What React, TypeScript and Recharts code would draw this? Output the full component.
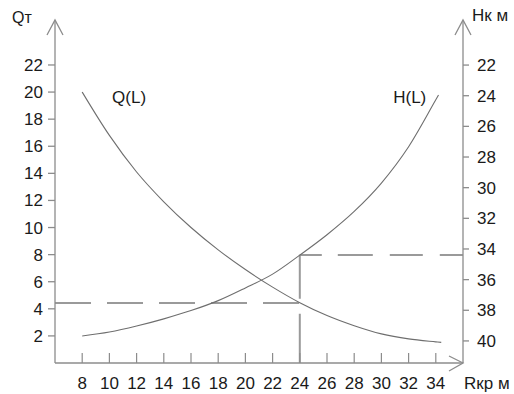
import { LineChart, Line, XAxis, YAxis, ReferenceDot } from "recharts"

// L, m
const lengthTicks = [8, 10, 12, 14, 16, 18, 20, 22, 24, 26, 28, 30, 32, 34]
const qTicks = [2, 4, 6, 8, 10, 12, 14, 16, 18, 20, 22]
const hTicks = [22, 24, 26, 28, 30, 32, 34, 36, 38, 40]

// Q(L) curve
const qLength = [8, 10, 12, 14, 16, 18, 20, 22, 24, 26, 28, 30, 32, 34, 34.4]
const qValues = [20.0, 16.8, 14.1, 11.9, 10.0, 8.35, 6.9, 5.6, 4.45, 3.5, 2.75, 2.15, 1.78, 1.56, 1.52]

// H(L) curve (right axis, reversed)
const hLength = [8, 10, 12, 14, 16, 18, 20, 22, 24, 26, 28, 30, 32, 34, 34.2]
const hValues = [39.68, 39.42, 39.03, 38.56, 38.02, 37.37, 36.54, 35.64, 34.4, 33.07, 31.55, 29.7, 27.33, 24.27, 23.96]

// guide lines
const workLength = 24
const workQ = 4.43
const workH = 34.4

const AXIS = "#8c8c8c"
const CURVE = "#6e6e6e"
const DASH = "#9a9a9a"
const INK = "#1a1a1a"
const FONT = "'Liberation Sans', Arial, sans-serif"

const qData = qLength.map((L, i) => ({ L, v: qValues[i] }))
const hData = hLength.map((L, i) => ({ L, v: hValues[i] }))
const qGuide = [{ L: 6, v: workQ }, { L: workLength, v: workQ }]
const vGuide = [{ L: workLength, v: 8 }, { L: workLength, v: 0 }]
const hGuide = [{ L: workLength, v: workH }, { L: 36, v: workH }]

const XTick = (props: any) => {
  const { x, y, payload } = props
  return (
    <g>
      <line x1={x} x2={x} y1={y - 10} y2={y} stroke={AXIS} strokeWidth={1.2} />
      <text x={x} y={y + 26} textAnchor="middle" fontSize={17} fill={INK} fontFamily={FONT}>
        {payload.value}
      </text>
    </g>
  )
}

const LeftAxisHead = (props: any) => {
  const vb = props.viewBox || {}
  const tx = vb.x + vb.width
  const ty = vb.y
  return (
    <g>
      <polyline points={`${tx - 8},${ty + 15} ${tx},${ty} ${tx + 8},${ty + 15}`} fill="none" stroke={AXIS} strokeWidth={1.3} />
      <text x={12} y={ty + 3} fontSize={16} fill={INK} fontFamily={FONT}>Qт</text>
    </g>
  )
}

const RightAxisHead = (props: any) => {
  const vb = props.viewBox || {}
  const tx = vb.x
  const ty = vb.y
  return (
    <g>
      <polyline points={`${tx - 8},${ty + 15} ${tx},${ty} ${tx + 8},${ty + 15}`} fill="none" stroke={AXIS} strokeWidth={1.3} />
      <text x={tx + 9} y={ty + 1} fontSize={17} fill={INK} fontFamily={FONT}>Hк м</text>
    </g>
  )
}

const XAxisHead = (props: any) => {
  const vb = props.viewBox || {}
  const tx = vb.x + vb.width
  const ty = vb.y
  return (
    <g>
      <polyline points={`${tx - 14},${ty - 7} ${tx},${ty} ${tx - 14},${ty + 8}`} fill="none" stroke={AXIS} strokeWidth={1.3} />
      <text x={tx + 1} y={ty + 26} fontSize={17} fill={INK} fontFamily={FONT}>Rкр м</text>
    </g>
  )
}

const CurveLabel = (text: string, anchor: "start" | "end") => (props: any) => {
  const vb = props.viewBox || {}
  return (
    <text x={vb.x} y={vb.y} textAnchor={anchor} fontSize={17} fill={INK} fontFamily={FONT}>
      {text}
    </text>
  )
}

export default function App() {
  return (
    <div style={{ position: "absolute", left: 0, top: 0, width: 514, height: 394, background: "#fff", fontFamily: FONT }}>
      <LineChart width={514} height={394} margin={{ top: 20, right: 10, bottom: 6, left: 10 }}>
        <XAxis
          type="number"
          dataKey="L"
          domain={[6, 36]}
          ticks={lengthTicks}
          allowDataOverflow
          height={25}
          stroke={AXIS}
          strokeWidth={1.3}
          tickLine={false}
          tickSize={0}
          tickMargin={0}
          tick={<XTick />}
          interval={0}
          label={{ content: <XAxisHead /> }}
        />
        <YAxis
          yAxisId="left"
          type="number"
          domain={[0, 25.32]}
          ticks={qTicks}
          allowDataOverflow
          width={45}
          stroke={AXIS}
          strokeWidth={1.3}
          tickSize={7}
          tickMargin={5}
          tick={{ fill: INK, fontSize: 17, fontFamily: FONT }}
          interval={0}
          label={{ content: <LeftAxisHead /> }}
        />
        <YAxis
          yAxisId="right"
          orientation="right"
          type="number"
          reversed
          domain={[19.06, 41.44]}
          ticks={hTicks}
          allowDataOverflow
          width={41}
          stroke={AXIS}
          strokeWidth={1.3}
          tickSize={6}
          tickMargin={8}
          tick={{ fill: INK, fontSize: 17, fontFamily: FONT }}
          interval={0}
          label={{ content: <RightAxisHead /> }}
        />

        <Line yAxisId="left" data={qGuide} dataKey="v" type="linear" stroke={DASH} strokeWidth={2} strokeDasharray="36 16" dot={false} isAnimationActive={false} />
        <Line yAxisId="left" data={vGuide} dataKey="v" type="linear" stroke={DASH} strokeWidth={2} strokeDasharray="44 15 60" dot={false} isAnimationActive={false} />
        <Line yAxisId="right" data={hGuide} dataKey="v" type="linear" stroke={DASH} strokeWidth={2} strokeDasharray="22 16 35 17 33 17 30" dot={false} isAnimationActive={false} />

        <Line yAxisId="left" data={qData} dataKey="v" type="monotone" stroke={CURVE} strokeWidth={1.1} dot={false} isAnimationActive={false} />
        <Line yAxisId="right" data={hData} dataKey="v" type="monotone" stroke={CURVE} strokeWidth={1.1} dot={false} isAnimationActive={false} />

        <ReferenceDot yAxisId="left" x={10.2} y={19.2} r={0} fill="none" stroke="none" label={{ content: CurveLabel("Q(L)", "start") }} />
        <ReferenceDot yAxisId="right" x={33.3} y={24.45} r={0} fill="none" stroke="none" label={{ content: CurveLabel("H(L)", "end") }} />
      </LineChart>
    </div>
  )
}
